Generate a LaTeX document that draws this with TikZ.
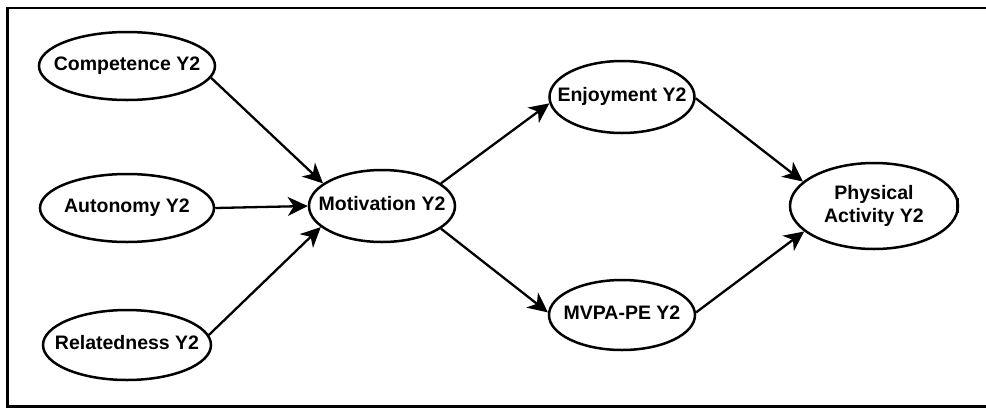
\documentclass[tikz,border=0pt]{standalone}
\usepackage{fontspec}
\setmainfont{Liberation Sans}
\usetikzlibrary{shapes.geometric,arrows.meta}
% text of zero width, so the ellipse size is set by the minimum sizes alone
\newcommand{\cname}[1]{\makebox[0pt]{\begin{tabular}{@{}c@{}}#1\end{tabular}}}
\begin{document}
\begin{tikzpicture}[x=1pt,y=-1pt,
  construct/.style={ellipse,draw,line width=2.5pt,inner sep=0pt,
    font=\fontsize{19.5}{23}\selectfont\bfseries},
  path/.style={line width=2.3pt,-{Stealth[length=20pt,width=19pt,inset=6pt]}},
  frame/.style={line width=2.6pt}]
\useasboundingbox (0,0) rectangle (986,408);
% open frame (right side runs off the page)
\begin{scope}
\clip (0,0) rectangle (986,408);
\draw[frame] (1000,8) -- (7.5,8) -- (7.5,406.5) -- (1000,406.5);
\end{scope}
% constructs
\node[construct,minimum width=176pt,minimum height=68pt] (comp) at (127,66) {\cname{Competence Y2}};
\node[construct,minimum width=174pt,minimum height=68pt] (auto) at (127,208) {\cname{Autonomy Y2}};
\node[construct,minimum width=168pt,minimum height=70pt] (rel) at (127,345) {\cname{Relatedness Y2}};
\node[construct,minimum width=146pt,minimum height=72pt] (mot) at (382,206) {\cname{Motivation Y2}};
\node[construct,minimum width=145pt,minimum height=72pt] (enj) at (622,97) {\cname{Enjoyment Y2}};
\node[construct,minimum width=146pt,minimum height=70pt] (mvpa) at (622,315) {\cname{MVPA-PE Y2}};
\node[construct,minimum width=168pt,minimum height=86pt] (pa) at (874,206) {\cname{Physical\\Activity Y2}};
% small tick on the right of the outcome ellipse
\coordinate (tickA) at (957.5,198);
\coordinate (tickB) at (957.5,213);
\draw[line width=2.6pt] (tickA) -- (tickB);
% paths
\draw[path] (comp.-8) -- (mot.159);
\draw[path] (auto.0) -- (mot.180);
\draw[path] (rel.7) -- (mot.199);
\draw[path] (mot.21) -- (enj.185);
\draw[path] (mot.-21) -- (mvpa.178);
\draw[path] (enj.-1) -- (pa.161);
\draw[path] (mvpa.2) -- (pa.200);
\end{tikzpicture}
\end{document}
